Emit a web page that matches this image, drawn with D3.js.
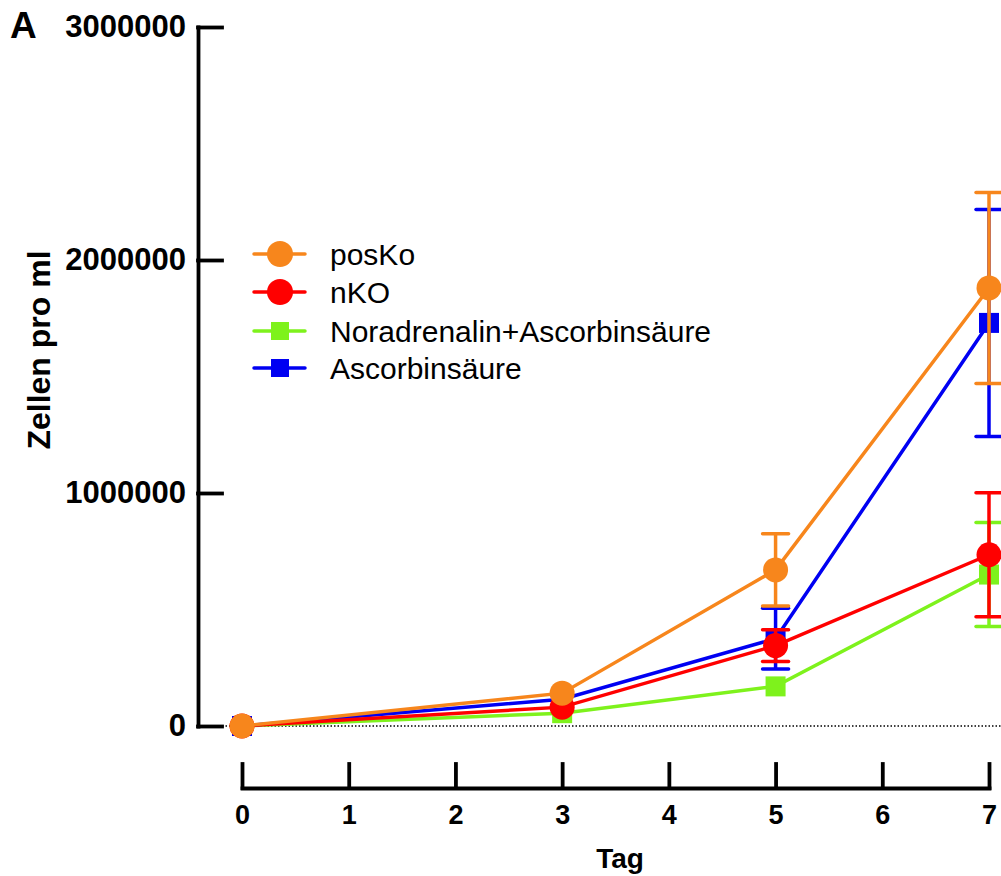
<!DOCTYPE html>
<html>
<head>
<meta charset="utf-8">
<script src="https://cdnjs.cloudflare.com/ajax/libs/d3/7.8.5/d3.min.js"></script>
<style>
  body { margin: 0; background: white; }
  #canvas-1 { width: 1001px; height: 876px; }
  text { font-family: Arial, "Liberation Sans", Helvetica, sans-serif; }
</style>
</head>
<body>
<div id="canvas-1"></div>
<script>
/* data */
var days = [0, 3, 5, 7];
var dayTicks = [0, 1, 2, 3, 4, 5, 6, 7];
var yTicks = [0, 1000000, 2000000, 3000000];

var seriesNames = ["posKo", "nKO", "Noradrenalin+Ascorbinsäure", "Ascorbinsäure"];
var seriesColors = ["#F7861C", "#FF0000", "#7EF21C", "#0000F2"];
var seriesShapes = ["circle", "circle", "square", "square"];

var posKoMean = [0, 141000, 670000, 1880000];
var posKoErr  = [0, 0, 155000, 410000];
var nKOMean   = [0, 81000, 345000, 735000];
var nKOErr    = [0, 0, 68000, 266000];
var noraMean  = [0, 55000, 170000, 650000];
var noraErr   = [0, 0, 0, 223000];
var ascMean   = [0, 115000, 375000, 1730000];
var ascErr    = [0, 0, 130000, 487000];

var means = [posKoMean, nKOMean, noraMean, ascMean];
var errs = [posKoErr, nKOErr, noraErr, ascErr];

var canvasWidth = 1001,
    canvasHeight = 876;

var svg = d3.select('#canvas-1')
    .append("svg")
    .attr("width", canvasWidth)
    .attr("height", canvasHeight);

var x = d3.scaleLinear().domain([0, 7]).range([242, 989]);
var y = d3.scaleLinear().domain([0, 3000000]).range([726, 27]);

// dotted line at zero
svg.append("line")
    .attr("x1", 222)
    .attr("x2", canvasWidth)
    .attr("y1", y(0))
    .attr("y2", y(0))
    .style("stroke", "black")
    .style("stroke-width", 1.3)
    .style("stroke-dasharray", "1.5,2");

// y axis, ticks pointing inwards
var yAxis = svg.append("g")
    .attr("transform", "translate(198,0)")
    .call(d3.axisLeft(y).tickValues(yTicks).tickFormat(d3.format("d"))
        .tickSizeInner(-24).tickSizeOuter(0).tickPadding(12));

// x axis, detached below, ticks pointing up
var xAxis = svg.append("g")
    .attr("transform", "translate(0,788)")
    .call(d3.axisBottom(x).tickValues(dayTicks).tickFormat(d3.format("d"))
        .tickSizeInner(-24).tickSizeOuter(0).tickPadding(17));

svg.selectAll(".domain, .tick line")
    .style("stroke", "black")
    .style("stroke-width", 3.8)
    .style("stroke-linecap", "square");

yAxis.selectAll("text")
    .style("font-size", "31px")
    .style("font-weight", "bold")
    .style("fill", "black");
xAxis.selectAll("text")
    .style("font-size", "27px")
    .style("font-weight", "bold")
    .style("fill", "black");

// titles
svg.append("text")
    .attr("x", 10)
    .attr("y", 38)
    .style("font-size", "37px")
    .style("font-weight", "bold")
    .text("A");

svg.append("text")
    .attr("transform", "translate(50,350) rotate(-90)")
    .attr("text-anchor", "middle")
    .style("font-size", "32px")
    .style("font-weight", "bold")
    .text("Zellen pro ml");

svg.append("text")
    .attr("x", 620)
    .attr("y", 868)
    .attr("text-anchor", "middle")
    .style("font-size", "28px")
    .style("font-weight", "bold")
    .text("Tag");

function drawMarker(g, shape, color, cx, cy) {
    if (shape == "circle") {
        g.append("circle")
            .attr("cx", cx)
            .attr("cy", cy)
            .attr("r", 12.5)
            .style("fill", color);
    } else {
        g.append("rect")
            .attr("x", cx - 10)
            .attr("y", cy - 10)
            .attr("width", 20)
            .attr("height", 20)
            .style("fill", color);
    }
}

// draw order: green, blue, red, orange on top
var order = [2, 3, 1, 0];
var line = d3.line()
    .x(function(d) { return x(d[0]); })
    .y(function(d) { return y(d[1]); });

order.forEach(function(s) {
    var color = seriesColors[s];
    var g = svg.append("g");
    var pts = days.map(function(d, i) { return [d, means[s][i]]; });

    g.append("path")
        .attr("d", line(pts))
        .style("fill", "none")
        .style("stroke", color)
        .style("stroke-width", 3.5);

    days.forEach(function(d, i) {
        var e = errs[s][i];
        if (e > 0) {
            var cx = x(d),
                top = y(means[s][i] + e),
                bot = y(means[s][i] - e);
            g.append("line")
                .attr("x1", cx).attr("x2", cx)
                .attr("y1", top).attr("y2", bot)
                .style("stroke", color)
                .style("stroke-width", 3.5);
            [top, bot].forEach(function(cy) {
                g.append("line")
                    .attr("x1", cx - 13).attr("x2", cx + 13)
                    .attr("y1", cy).attr("y2", cy)
                    .style("stroke", color)
                    .style("stroke-width", 3.5)
                    .style("stroke-linecap", "round");
            });
        }
        drawMarker(g, seriesShapes[s], color, x(d), y(means[s][i]));
    });
});

// legend
var legendY = [254, 292, 331, 368];
seriesNames.forEach(function(name, i) {
    var lg = svg.append("g")
        .attr("transform", "translate(0," + legendY[i] + ")");
    lg.append("line")
        .attr("x1", 254).attr("x2", 305)
        .attr("y1", 0).attr("y2", 0)
        .style("stroke", seriesColors[i])
        .style("stroke-width", 3.5)
        .style("stroke-linecap", "round");
    if (seriesShapes[i] == "circle") {
        lg.append("circle").attr("cx", 280).attr("cy", 0).attr("r", 13)
            .style("fill", seriesColors[i]);
    } else {
        lg.append("rect").attr("x", 271).attr("y", -9).attr("width", 18).attr("height", 18)
            .style("fill", seriesColors[i]);
    }
    lg.append("text")
        .attr("x", 330)
        .attr("y", 0)
        .attr("dy", "0.35em")
        .style("font-size", "30px")
        .text(name);
});
</script>
</body>
</html>
